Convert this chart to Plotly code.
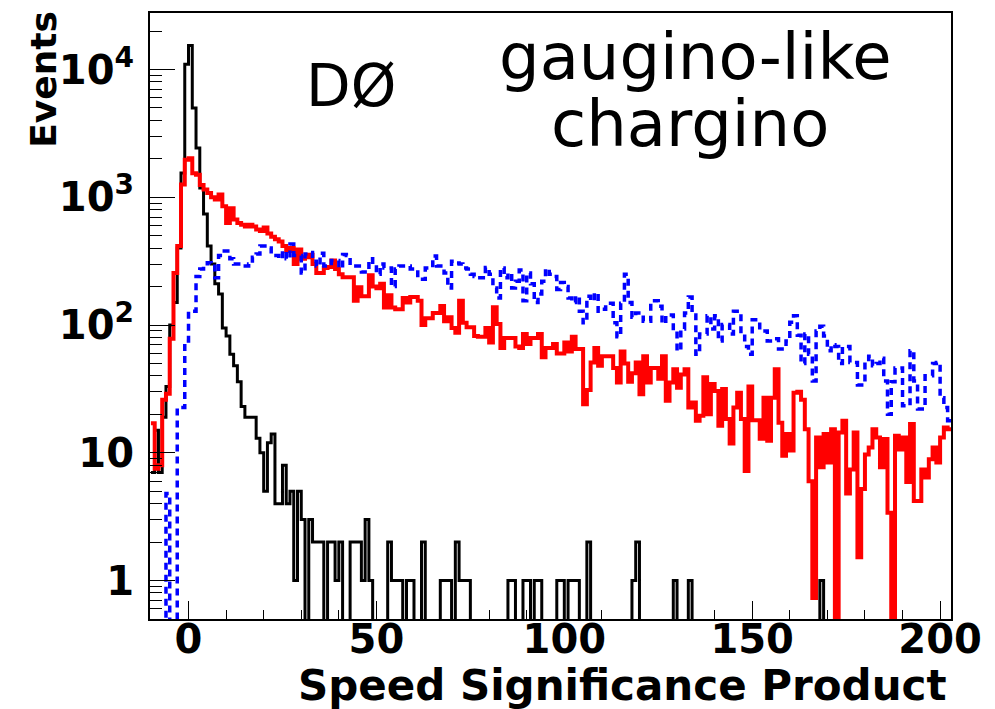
import numpy as np
import plotly.graph_objects as go

# ---- histogram binning (unit bins from -10) ----
x_low = -10.0
bin_width = 1.0

# black histogram (per bin, starting at x=-10)
black_counts = [
    7, 15, 7, 19, 33, 100, 150, 400, 1550, 11000,
    15400, 5000, 2430, 1180, 740, 415, 300, 210, 175, 95,
    82, 59, 48, 36, 23, 19, 19, 19, 13, 10,
    5, 12, 14, 4, 4, 8, 4, 5, 1, 5,
    3, 0, 3, 2, 2, 2, 0, 2, 2, 1,
    2, 0, 0, 2, 2, 2, 1, 3, 1, 0,
    0, 0, 0, 2, 1, 1, 1, 0, 1, 1,
    0, 0, 2, 0, 0, 0, 0, 1, 1, 1,
    0, 2, 1, 1, 1, 0, 0, 0, 0, 0,
    0, 0, 0, 0, 0, 1, 1, 0, 0, 1,
    1, 0, 1, 1, 0, 0, 0, 0, 1, 1,
    0, 1, 1, 1, 0, 0, 2, 0, 0, 0,
    0, 0, 0, 0, 0, 0, 0, 0, 1, 2,
    0, 0, 0, 0, 0, 0, 0, 0, 0, 1,
    0, 0, 0, 1, 0, 0, 0, 0, 0, 0,
    0, 0, 0, 0, 0, 0, 0, 0, 0, 0,
    0, 0, 0, 0, 0, 0, 0, 0, 0, 0,
    0, 0, 0, 0, 0, 0, 0, 0, 1, 0,
    0, 0, 0, 0, 0, 0, 0, 0, 0, 0,
    0, 0, 0, 0, 0, 0, 0, 0, 0, 0,
    0, 0, 0, 0, 0, 0, 0, 0, 0, 0,
    0, 0, 0,
]

# red histogram
red_counts = [
    17, 7.5, 8, 26, 29, 78, 255, 415, 1260, 1970,
    2020, 1540, 1500, 1250, 1150, 1080, 1000, 960, 1050, 850,
    630, 820, 670, 630, 610, 590, 610, 590, 560, 545,
    580, 520, 490, 470, 450, 415, 380, 400, 300, 390,
    330, 340, 355,
    300, 255, 255, 280, 285, 320, 275, 250, 237, 237,
    237, 155, 198, 168, 168, 245, 200, 194, 210, 137,
    171, 137, 133, 133, 163, 150, 166, 166, 155, 100,
    113, 113, 124, 124, 141, 107, 115, 95, 87, 155,
    104, 96, 96, 82,
    81, 81, 95, 73, 138, 102, 66, 79, 79, 79,
    68, 66, 85, 71, 79, 79, 85, 56, 66, 66,
    71, 60, 60, 73, 62, 81, 65, 65, 24, 31,
    51, 66, 48, 57, 57, 57, 46, 35.5, 62, 50,
    36,
    42, 51, 28.7, 57, 35.5, 46, 46, 38, 57, 25.5,
    35.5, 45, 32.3, 41, 45, 22.6, 24.8, 17.8, 19.5, 39,
    20, 34.5, 30.5, 16.3, 31.6, 18.4, 11.8, 22.6, 29.5, 18.4,
    7.2, 33, 18, 18, 12.9, 27, 12.4, 27, 45, 17.2,
    9.5, 14, 10.4, 29.5,
    30, 26, 15.3, 6.0, 0.73, 13.2, 7.7, 14, 8.4, 15.3,
    0, 14.4, 17.8, 4.8, 7.4, 14.4, 1.52, 5.2, 9.7, 11,
    15.3, 13.2, 7.7, 12.8, 3.4, 0, 13.6, 10.6, 13.2, 5.9,
    16.8, 4.2, 4.2, 7.4, 6.4, 8.9, 11, 8.4, 13.2, 15.8,
    15.3,
]

# blue dashed histogram
blue_counts = [
    0, 0, 0, 0, 4.8, 0, 0, 22.6, 22.6, 75,
    128, 128, 240, 275, 290, 307, 300, 234, 350, 380,
    380, 330, 300, 300, 290, 290, 300, 340, 360, 415,
    415, 400, 350, 350, 330, 380, 330, 430, 350, 350,
    255, 360, 370,
    316, 290, 365, 290, 290, 320, 320, 280, 357, 350,
    290, 290, 290, 260, 275, 330, 300, 250, 300, 280,
    280, 200, 275, 290, 290, 290, 275, 275, 228, 228,
    280, 280, 347, 290, 290, 255, 195, 316, 306, 300,
    280, 275, 250, 240,
    234, 234, 282, 250, 195, 163, 280, 234, 255, 195,
    220, 270, 155, 255, 210, 150, 175, 220, 275, 250,
    240, 190, 215, 200, 163, 150, 168, 128, 104, 168,
    155, 178, 128, 133, 148, 148, 104, 81, 148, 250,
    150, 115,
    124, 124, 107, 107, 155, 155, 140, 103, 120, 120,
    90, 63, 93, 124, 166, 120, 59, 85, 85, 118,
    93, 118, 75, 101, 101, 85, 128, 128, 85, 68,
    59, 110, 110, 90, 90, 75, 75, 78, 65, 65,
    75, 105, 118,
    83, 50, 85, 59, 36.5, 90, 98, 82, 63, 70,
    68, 50, 68, 68, 51, 51, 34, 34, 51, 57,
    48, 50, 55, 36.5, 20, 36, 46, 46, 23.3, 23.3,
    63, 36.5, 22, 22, 40, 40, 50, 51, 27, 22.6,
    17.8,
]

x_ticks = [0, 50, 100, 150, 200]
y_tickvals = [1, 10, 100, 1000, 10000]
y_ticktext = ["1", "10", "10<sup>2</sup>", "10<sup>3</sup>", "10<sup>4</sup>"]

n = max(len(black_counts), len(red_counts), len(blue_counts))


def pad(v):
    v = list(v)[:n]
    return v + [0] * (n - len(v))


edges = x_low + bin_width * np.arange(n + 1)
FLOOR = 0.05  # empty bins drawn below the axis floor (clipped), as ROOT does


def step(vals):
    v = np.array(pad(vals), dtype=float)
    v = np.where(v > 0, v, FLOOR)
    return edges, np.append(v, v[-1])


fig = go.Figure()
xs, ys = step(black_counts)
fig.add_trace(go.Scatter(x=xs, y=ys, mode="lines", line=dict(color="black", width=3, shape="hv"),
                         showlegend=False, hoverinfo="skip"))
xs, ys = step(red_counts)
fig.add_trace(go.Scatter(x=xs, y=ys, mode="lines", line=dict(color="#ff0000", width=4, shape="hv"),
                         showlegend=False, hoverinfo="skip"))
xs, ys = step(blue_counts)
fig.add_trace(go.Scatter(x=xs, y=ys, mode="lines",
                         line=dict(color="#0000ff", width=3.5, shape="hv", dash="7px,5px"),
                         showlegend=False, hoverinfo="skip"))

# page has an 8px body margin; figure is sized/placed so the frame lands at
# page pixels x 150..951, y 11..619
OFF = 8
W, H = 995 - OFF, 709 - OFF
L, T = 150 - OFF, 11 - OFF
R, B = 44, 90
pw, ph = W - L - R, H - T - B


def px(xpage):
    return (xpage - OFF - L) / pw


def py(ypage):
    return (H - B - (ypage - OFF)) / ph


tickfont = dict(family="DejaVu Sans", size=40, color="black", weight="bold")

minor_y = [m * 10.0 ** e for e in range(-1, 5) for m in range(2, 10)]

fig.update_layout(
    width=W, height=H, autosize=False,
    margin=dict(l=L, r=R, t=T, b=B, pad=0),
    paper_bgcolor="white", plot_bgcolor="white",
    xaxis=dict(range=[-10.25, 202.9], tickmode="linear", tick0=0, dtick=50,
               ticks="inside", ticklen=18, tickwidth=1, tickcolor="black",
               minor=dict(dtick=10, tick0=0, ticks="inside", ticklen=9, tickwidth=1, tickcolor="black"),
               showgrid=False, zeroline=False, showline=True, mirror=True,
               linecolor="black", linewidth=2, tickfont=tickfont, ticklabelstandoff=-16),
    yaxis=dict(type="log", range=[np.log10(0.5), np.log10(27700)],
               tickmode="array", tickvals=y_tickvals, ticktext=y_ticktext,
               ticks="inside", ticklen=25, tickwidth=1, tickcolor="black",
               minor=dict(tickmode="array", tickvals=minor_y, ticks="inside", ticklen=12,
                          tickwidth=1, tickcolor="black"),
               showgrid=False, zeroline=False, showline=True, mirror=True,
               linecolor="black", linewidth=2, tickfont=tickfont, ticklabelstandoff=6),
)

fig.add_annotation(text="DØ", x=px(351), y=py(84), xref="paper", yref="paper",
                   showarrow=False, xanchor="center", yanchor="middle",
                   font=dict(family="DejaVu Sans", size=58, color="black"))
fig.add_annotation(text="gaugino-like", x=px(695), y=py(55), xref="paper", yref="paper",
                   showarrow=False, xanchor="center", yanchor="middle",
                   font=dict(family="DejaVu Sans", size=64, color="black"))
fig.add_annotation(text="chargino", x=px(690), y=py(122), xref="paper", yref="paper",
                   showarrow=False, xanchor="center", yanchor="middle",
                   font=dict(family="DejaVu Sans", size=64, color="black"))
fig.add_annotation(text="Events", x=px(44), y=py(78), xref="paper", yref="paper",
                   showarrow=False, xanchor="center", yanchor="middle", textangle=-90,
                   font=dict(family="DejaVu Sans", size=36, color="black", weight="bold"))
fig.add_annotation(text="Speed Significance Product", x=px(949), y=py(686), xref="paper", yref="paper",
                   showarrow=False, xanchor="right", yanchor="middle",
                   font=dict(family="DejaVu Sans", size=42, color="black", weight="bold"))

fig.write_html("out.html")
